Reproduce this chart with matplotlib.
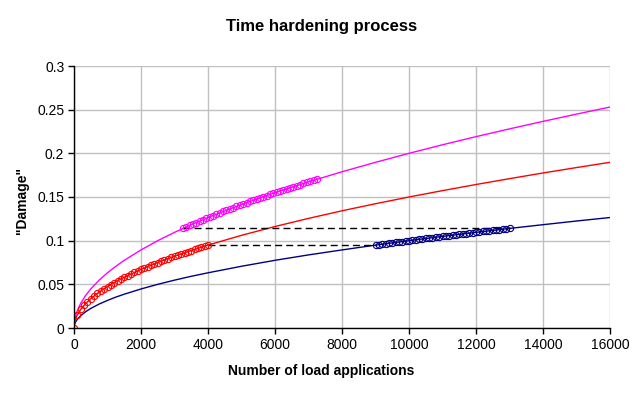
import matplotlib.pyplot as plt

plt.rcParams['font.family'] = ['Liberation Sans', 'DejaVu Sans']

# full curves: damage vs number of load applications
n_curve = [0, 10, 25, 50, 100, 200, 350, 500, 750, 1000, 1250, 1500, 2000, 2500,
           3000, 3500, 4000, 5000, 6000, 7000, 8000, 9000, 10000, 11000, 12000,
           13000, 14000, 15000, 16000]
blue_curve = [0, 0.0032, 0.0050, 0.0071, 0.0100, 0.0141, 0.0187, 0.0224, 0.0274,
              0.0316, 0.0354, 0.0387, 0.0447, 0.0500, 0.0548, 0.0592, 0.0632,
              0.0707, 0.0775, 0.0837, 0.0894, 0.0949, 0.1000, 0.1049, 0.1095,
              0.1140, 0.1183, 0.1225, 0.1265]
red_curve = [0, 0.0047, 0.0075, 0.0106, 0.0150, 0.0212, 0.0281, 0.0335, 0.0411,
             0.0474, 0.0530, 0.0581, 0.0671, 0.0750, 0.0822, 0.0887, 0.0949,
             0.1061, 0.1162, 0.1255, 0.1342, 0.1423, 0.1500, 0.1573, 0.1643,
             0.1710, 0.1775, 0.1837, 0.1897]
magenta_curve = [0, 0.0063, 0.0100, 0.0141, 0.0200, 0.0283, 0.0374, 0.0447, 0.0548,
                 0.0632, 0.0707, 0.0775, 0.0894, 0.1000, 0.1095, 0.1183, 0.1265,
                 0.1414, 0.1549, 0.1673, 0.1789, 0.1897, 0.2000, 0.2098, 0.2191,
                 0.2280, 0.2366, 0.2449, 0.2530]

# hardening path, step 1: red level 0..4000
red_n = list(range(0, 4001, 100))
red_d = [0, 0.0150, 0.0212, 0.0260, 0.0300, 0.0335, 0.0367, 0.0397, 0.0424, 0.0450,
         0.0474, 0.0497, 0.0520, 0.0541, 0.0561, 0.0581, 0.0600, 0.0618, 0.0636,
         0.0654, 0.0671, 0.0687, 0.0704, 0.0719, 0.0735, 0.0750, 0.0765, 0.0779,
         0.0794, 0.0808, 0.0822, 0.0835, 0.0849, 0.0862, 0.0875, 0.0887, 0.0900,
         0.0912, 0.0925, 0.0937, 0.0949]

# step 2: blue level 9000..13000
blue_n = list(range(9000, 13001, 100))
blue_d = [0.0949, 0.0954, 0.0959, 0.0964, 0.0970, 0.0975, 0.0980, 0.0985, 0.0990,
          0.0995, 0.1000, 0.1005, 0.1010, 0.1015, 0.1020, 0.1025, 0.1030, 0.1034,
          0.1039, 0.1044, 0.1049, 0.1054, 0.1058, 0.1063, 0.1068, 0.1072, 0.1077,
          0.1082, 0.1086, 0.1091, 0.1095, 0.1100, 0.1105, 0.1109, 0.1114, 0.1118,
          0.1122, 0.1127, 0.1131, 0.1136, 0.1140]

# step 3: magenta level 3250..7250
mag_n = list(range(3250, 7251, 100))
mag_d = [0.1140, 0.1158, 0.1175, 0.1192, 0.1208, 0.1225, 0.1241, 0.1257, 0.1273,
         0.1288, 0.1304, 0.1319, 0.1334, 0.1349, 0.1364, 0.1378, 0.1393, 0.1407,
         0.1421, 0.1435, 0.1449, 0.1463, 0.1476, 0.1490, 0.1503, 0.1517, 0.1530,
         0.1543, 0.1556, 0.1568, 0.1581, 0.1594, 0.1606, 0.1619, 0.1631, 0.1643,
         0.1655, 0.1667, 0.1679, 0.1691, 0.1703]

# dashed transfer lines
dash_upper_n = [3250, 13000]
dash_upper_d = [0.1140, 0.1140]
dash_lower_n = [4000, 9000]
dash_lower_d = [0.0949, 0.0949]

fig = plt.figure(figsize=(6.43, 3.96), dpi=100)
ax = fig.add_axes([74 / 643, 1 - 328 / 396, 536 / 643, 262 / 396])

ax.plot(n_curve, blue_curve, color='#000080', lw=1)
ax.plot(n_curve, red_curve, color='#ff0000', lw=1)
ax.plot(n_curve, magenta_curve, color='#ff00ff', lw=1)

ax.plot(dash_upper_n, dash_upper_d, color='black', lw=1, dashes=(5, 3))
ax.plot(dash_lower_n, dash_lower_d, color='black', lw=1, dashes=(5, 3))

ax.plot(red_n, red_d, ls='none', marker='o', ms=4.5, mfc='none', mec='#ff0000', mew=0.8)
ax.plot(blue_n, blue_d, ls='none', marker='o', ms=4.5, mfc='none', mec='#000080', mew=0.8)
ax.plot(mag_n, mag_d, ls='none', marker='o', ms=4.5, mfc='none', mec='#ff00ff', mew=0.8)

ax.set_xlim(0, 16000)
ax.set_ylim(0, 0.3)
ax.set_xticks(range(0, 16001, 2000))
ax.set_yticks([0, 0.05, 0.1, 0.15, 0.2, 0.25, 0.3])
ax.set_yticklabels(['0', '0.05', '0.1', '0.15', '0.2', '0.25', '0.3'])
ax.grid(True, color='#c0c0c0', lw=1)
ax.set_axisbelow(True)
for s in ['top', 'right']:
    ax.spines[s].set_visible(False)
for s in ['left', 'bottom']:
    ax.spines[s].set_color('black')
    ax.spines[s].set_linewidth(1)
ax.tick_params(direction='out', length=4, width=1, labelsize=10, pad=3)

fig.text(0.5, 1 - 371 / 396, 'Number of load applications', ha='center', va='center',
         fontsize=10, fontweight='bold')
fig.text(22 / 643, 1 - 200 / 396, '"Damage"', ha='center', va='center', rotation=90,
         fontsize=10, fontweight='bold')
fig.text(0.5, 1 - 27 / 396, 'Time hardening process', ha='center', va='center',
         fontsize=12, fontweight='bold')

fig.savefig('out.png', dpi=100)
